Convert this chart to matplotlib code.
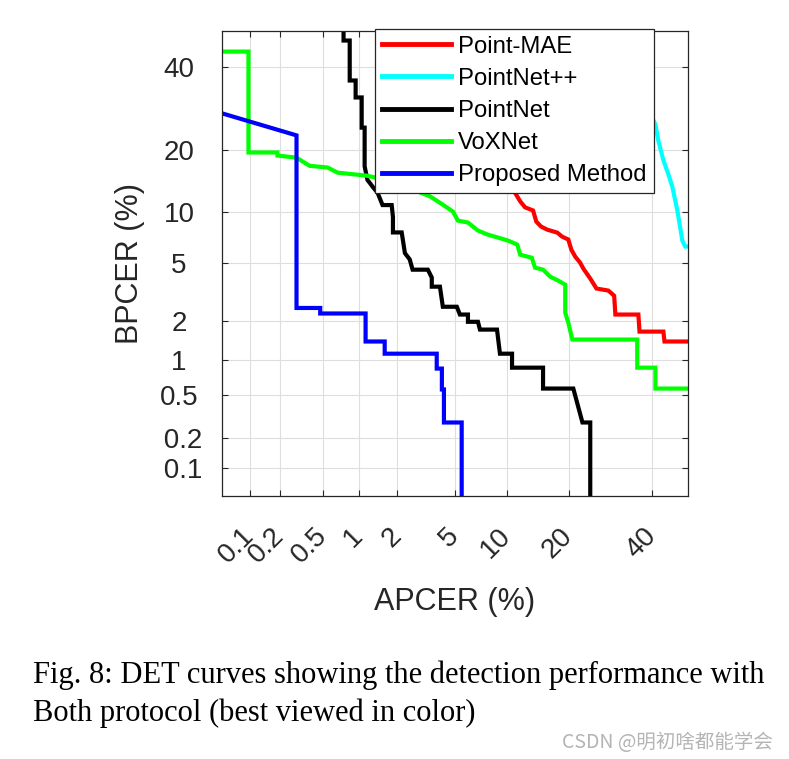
import math
import numpy as np
import matplotlib
matplotlib.use("Agg")
import matplotlib.pyplot as plt

# DET curves, values in percent (APCER, BPCER)
tick_vals = [0.1, 0.2, 0.5, 1, 2, 5, 10, 20, 40]
x_ticklabels = ["0.1", "0.2", "0.5", "1", "2", "5", "10", "20", "40"]
y_ticklabels = [" 0.1", " 0.2", "0.5", "1", "2", "5", "10", "20", "40"]

labels = ["Point-MAE", "PointNet++", "PointNet", "VoXNet", "Proposed Method"]
colors = ["#ff0000", "#00ffff", "#000000", "#00ff00", "#0000ff"]

mae_apcer = [10.95, 11.1, 11.8, 12.5, 13.7, 14.2, 14.97, 16.0, 17.8, 18.7, 19.9, 20.5,
             21.3, 22.3, 23.0, 24.5, 25.9, 28.7, 30.1, 30.4, 36.3, 36.6, 43.1, 43.4, 50]
mae_bpcer = [13.1, 12.6, 11.4, 10.6, 10.2, 8.87, 8.32, 7.99, 7.68, 7.28, 7.0, 6.09,
             5.51, 5.06, 4.63, 3.99, 3.42, 3.31, 3.05, 2.24, 2.24, 1.67, 1.67, 1.40, 1.40]

pnpp_apcer = [40.0, 40.9, 41.7, 43.1, 44.5, 45.6, 47.0, 47.8, 48.4, 49.2, 50]
pnpp_bpcer = [27.0, 25.4, 21.9, 18.0, 15.5, 13.5, 10.2, 8.2, 6.9, 6.36, 6.36]

pn_apcer = [0.75, 0.75, 0.845, 0.845, 0.946, 0.946, 1.06, 1.06, 1.12, 1.12, 1.18, 1.30,
            1.42, 1.55, 1.82, 1.86, 1.86, 2.16, 2.28, 2.47, 2.59, 3.31, 3.52, 3.52, 3.99,
            4.17, 5.13, 5.36, 6.01, 6.01, 6.90, 7.09, 8.87, 9.21, 10.7, 10.7, 15.3, 15.3,
            20.9, 22.8, 24.5, 24.5]
pn_bpcer = [50, 47.3, 47.3, 36.3, 36.3, 31.9, 31.9, 24.7, 24.7, 16.9, 14.6, 13.5,
            12.6, 10.9, 10.9, 9.4, 7.7, 7.7, 5.8, 5.3, 4.56, 4.56, 4.05, 3.52, 3.52,
            2.55, 2.55, 2.24, 2.24, 1.98, 1.98, 1.73, 1.73, 1.12, 1.12, 0.86, 0.86, 0.57,
            0.57, 0.28, 0.28, 0.04]

vox_apcer = [0.05, 0.0955, 0.0955, 0.187, 0.187, 0.285, 0.377, 0.546, 0.668, 1.16, 1.35,
             2.82, 3.42, 4.17, 4.85, 5.21, 6.01, 6.90, 7.89, 8.98, 10.2, 11.4, 11.8, 13.5,
             14.0, 15.3, 16.5, 18.0, 19.3, 19.3, 19.9, 20.7, 36.0, 36.0, 40.9, 40.9, 50]
vox_bpcer = [44.2, 44.2, 19.5, 19.5, 18.9, 18.5, 17.0, 16.7, 15.8, 15.3, 15.0,
             12.8, 12.1, 10.95, 10.06, 8.98, 8.76, 7.89, 7.47, 7.19, 6.90, 6.53, 5.67, 5.43,
             4.70, 4.56, 4.11, 3.86, 3.63, 2.31, 1.95, 1.45, 1.45, 0.86, 0.86, 0.57, 0.57]

prop_apcer = [0.05, 0.285, 0.285, 0.47, 0.47, 1.14, 1.14, 1.61, 1.61, 3.8, 3.8, 4.11,
              4.11, 4.24, 4.24, 5.5, 5.5]
prop_bpcer = [28, 23, 2.5, 2.5, 2.28, 2.28, 1.40, 1.40, 1.12, 1.12, 0.845, 0.845,
              0.56, 0.56, 0.28, 0.28, 0.04]

series = [(mae_apcer, mae_bpcer), (pnpp_apcer, pnpp_bpcer), (pn_apcer, pn_bpcer),
          (vox_apcer, vox_bpcer), (prop_apcer, prop_bpcer)]


# normal deviate scale (percent -> probit)
_z = np.linspace(-8, 8, 32001)
_p = 0.5 * (1 + np.array([math.erf(v / math.sqrt(2)) for v in _z]))


def to_probit(pct):
    return np.interp(np.asarray(pct, dtype=float) / 100.0, _p, _z)


def from_probit(z):
    return np.interp(np.asarray(z, dtype=float), _z, _p) * 100.0


plt.rcParams["font.family"] = ["Liberation Sans", "DejaVu Sans"]
dark = "#262626"

fig = plt.figure(figsize=(7.89, 7.59), dpi=100)
ax = fig.add_axes([0.2814, 0.3465, 0.5906, 0.6127])
ax.set_xscale("function", functions=(to_probit, from_probit))
ax.set_yscale("function", functions=(to_probit, from_probit))

for (xs, ys), lab, col in zip(series, labels, colors):
    ax.plot(xs, ys, color=col, lw=3, label=lab, solid_joinstyle="miter")

ax.set_xlim(0.05, 50)
ax.set_ylim(0.05, 50)
ax.set_xticks(tick_vals)
ax.set_yticks(tick_vals)
ax.minorticks_off()
ax.set_xticklabels(x_ticklabels, rotation=45, rotation_mode="anchor", ha="right", va="center")
ax.set_yticklabels(y_ticklabels, ha="center")
ax.tick_params(direction="in", top=True, right=True, length=4, width=0.8,
               labelsize=20, colors=dark)
ax.tick_params(axis="x", pad=26)
ax.tick_params(axis="y", pad=31)
ax.grid(True, color="#dedede", lw=0.8)
ax.set_axisbelow(True)
for s in ax.spines.values():
    s.set_color(dark)
    s.set_linewidth(0.9)

ax.set_xlabel("APCER (%)", fontsize=22, color=dark)
ax.set_ylabel("BPCER (%)", fontsize=22, color=dark)
ax.xaxis.set_label_coords(0.5, -0.195)
ax.yaxis.set_label_coords(-0.165, 0.5)

leg = ax.legend(loc="upper right", bbox_to_anchor=(0.927, 1.005), borderaxespad=0,
                fontsize=17.2, fancybox=False, framealpha=1, edgecolor=dark,
                handlelength=2.9, handletextpad=0.3, labelspacing=0.42, borderpad=0.3)
leg.get_frame().set_linewidth(0.9)
for h in leg.get_lines():
    h.set_linewidth(3.5)

fig.text(33 / 789, 1 - 675 / 759,
         "Fig. 8: DET curves showing the detection performance with",
         fontsize=22, family="Liberation Serif", va="center", ha="left")
fig.text(33 / 789, 1 - 713 / 759, "Both protocol (best viewed in color)",
         fontsize=22, family="Liberation Serif", va="center", ha="left")
fig.text(773 / 789, 1 - 742 / 759, "CSDN @明初啥都能学会", fontsize=14,
         family=["Noto Sans CJK SC", "DejaVu Sans"], color="#b4b4b4",
         va="center", ha="right")

fig.savefig("out.png", dpi=100)
